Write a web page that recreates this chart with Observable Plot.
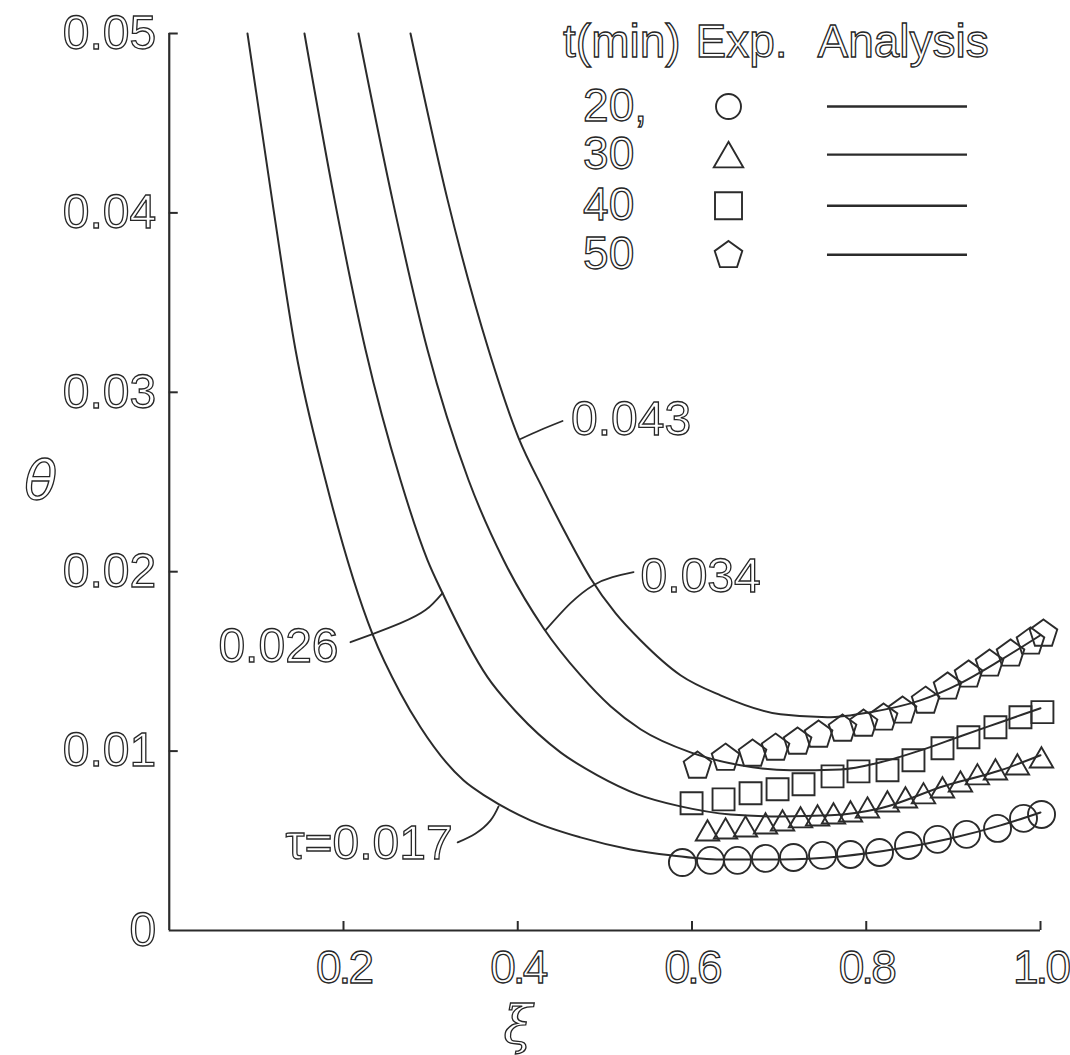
<!DOCTYPE html>
<html>
<head>
<meta charset="utf-8">
<script src="https://cdn.jsdelivr.net/npm/d3@7"></script>
<script src="https://cdn.jsdelivr.net/npm/@observablehq/plot@0.6"></script>
<style>
  html, body { margin: 0; padding: 0; background: #fff; }
  #chart svg { display: block; }
  #chart svg text { fill: #ffffff; stroke: #262626; stroke-width: 1.3px; paint-order: normal; }
  #chart svg g[aria-label="text"], #chart svg g[aria-label^="x-axis"], #chart svg g[aria-label^="y-axis"] { opacity: 0.995; }
  #chart svg g[aria-label="x-axis tick label"] text { letter-spacing: -3px; }
</style>
</head>
<body>
<div id="chart"></div>
<script>
// ---------------- DATA ----------------
const xTicks = [0.2, 0.4, 0.6, 0.8, 1.0];
const xTickLabels = ["0.2", "0.4", "0.6", "0.8", "1.0"];
const yTicks = [0, 0.01, 0.02, 0.03, 0.04, 0.05];
const yTickLabels = ["0", "0.01", "0.02", "0.03", "0.04", "0.05"];

const tauValues = ["0.017", "0.026", "0.034", "0.043"];
const tMinutes = ["20,", "30", "40", "50"];

// Analysis curves [xi, theta]
const analysis017 = [[0.0898,0.0500],[0.1197,0.04018],[0.1449,0.03237],[0.1793,0.02511],[0.2333,0.01652],[0.2654,0.01323],[0.2884,0.01133],[0.3377,0.00837],[0.3653,0.00742],[0.4146,0.00614],[0.4720,0.00519],[0.5294,0.00452],[0.5753,0.00419],[0.6327,0.00396],[0.7016,0.00396],[0.7704,0.00413],[0.8393,0.00458],[0.8967,0.00513],[0.9541,0.00586],[1.0,0.00658]];
const analysis026 = [[0.1552,0.0500],[0.1897,0.04074],[0.2253,0.03237],[0.2654,0.02511],[0.2964,0.02065],[0.3136,0.01881],[0.3653,0.01412],[0.3997,0.01211],[0.4491,0.00993],[0.4915,0.00865],[0.5374,0.00759],[0.5868,0.00692],[0.6442,0.00647],[0.7016,0.00636],[0.7590,0.00642],[0.8164,0.00681],[0.8887,0.00804],[0.9541,0.00893],[1.0,0.00977]];
const analysis034 = [[0.2172,0.0500],[0.2562,0.04074],[0.2964,0.03237],[0.3435,0.02511],[0.3837,0.02065],[0.4296,0.01685],[0.4720,0.01423],[0.5065,0.01250],[0.5409,0.01122],[0.5983,0.00993],[0.6557,0.00921],[0.7131,0.00893],[0.7704,0.00898],[0.8164,0.00938],[0.8623,0.01004],[0.9082,0.01083],[0.9541,0.01161],[1.0,0.01239]];
const analysis043 = [[0.2769,0.0500],[0.3194,0.04074],[0.3665,0.03237],[0.4009,0.02746],[0.4296,0.02455],[0.4572,0.02193],[0.4835,0.01964],[0.5122,0.01769],[0.5409,0.01618],[0.5868,0.01423],[0.6327,0.01311],[0.7016,0.01205],[0.7553,0.01189],[0.8046,0.01217],[0.8620,0.01283],[0.9079,0.01378],[0.9541,0.01507],[1.0,0.01646]];

// Experimental points [xi, theta]
const exp20 = [[0.5890,0.00379],[0.6212,0.00391],[0.6522,0.00391],[0.6843,0.00402],[0.7165,0.00407],[0.7498,0.00419],[0.7819,0.00424],[0.8152,0.00435],[0.8485,0.00474],[0.8818,0.00508],[0.9151,0.00536],[0.9507,0.00569],[0.9805,0.00625],[1.0012,0.00647]];
const exp30 = [[0.6178,0.00558],[0.6385,0.00569],[0.6614,0.00580],[0.6844,0.00597],[0.7039,0.00614],[0.7246,0.00631],[0.7441,0.00642],[0.7624,0.00653],[0.7819,0.00664],[0.8014,0.00686],[0.8243,0.00720],[0.8450,0.00742],[0.8657,0.00765],[0.8875,0.00798],[0.9081,0.00831],[0.9276,0.00871],[0.9483,0.00898],[0.9735,0.00926],[1.0011,0.00965]];
const exp40 = [[0.5995,0.00709],[0.6362,0.00731],[0.6672,0.00765],[0.6982,0.00787],[0.7280,0.00815],[0.7613,0.00859],[0.7911,0.00887],[0.8244,0.00893],[0.8542,0.00949],[0.8875,0.01016],[0.9173,0.01077],[0.9483,0.01133],[0.9770,0.01189],[1.0022,0.01217]];
const exp50 = [[0.6063,0.00921],[0.6385,0.00965],[0.6695,0.00988],[0.6959,0.01021],[0.7212,0.01055],[0.7453,0.01094],[0.7728,0.01127],[0.7969,0.01155],[0.8199,0.01189],[0.8417,0.01228],[0.8681,0.01283],[0.8933,0.01362],[0.9174,0.01429],[0.9415,0.01490],[0.9656,0.01546],[0.9885,0.01613],[1.0034,0.01657]];

// ---------------- ANNOTATION LAYOUT (data space) ----------------
const leaders = [
  [[0.3310,0.00491],[0.3516,0.00541],[0.3688,0.00614],[0.3780,0.00692]],
  [[0.2080,0.01607],[0.2333,0.01652],[0.2654,0.01713],[0.2941,0.01786],[0.3136,0.01881]],
  [[0.4319,0.01674],[0.4606,0.01825],[0.4869,0.01925],[0.5088,0.01970],[0.5329,0.01998]],
  [[0.4032,0.02740],[0.4261,0.02790],[0.4514,0.02840]]
];
const curveLabelPos = [
  {x: 0.3253, y: 0.00486, anchor: "end", prefix: "τ="},
  {x: 0.1943, y: 0.01585, anchor: "end", prefix: ""},
  {x: 0.5410, y: 0.01975, anchor: "start", prefix: ""},
  {x: 0.4612, y: 0.02846, anchor: "start", prefix: ""}
];
const LEG_HEAD_Y = 0.0495;
const LEG_ROWS_Y = [0.04593, 0.04325, 0.0404, 0.03767];
const LEG_NUM_X = 0.4750, LEG_SYM_X = 0.6419, LEG_L1 = 0.7555, LEG_L2 = 0.9162;
const legendHead = [{x: 0.4520, text: "t(min)"}, {x: 0.6040, text: "Exp."}, {x: 0.7440, text: "Analysis"}];

// ---------------- STYLE ----------------
const INK = "#2b2b2b";
const FONT = "Liberation Sans, Arial, sans-serif";
const W = 1070, H = 1055, ML = 168.75, MR = 30, MT = 33, MB = 125;
const FRAME_W = W - ML - MR, FRAME_H = H - MT - MB;

function poly(n, rot, shiftY) {
  return {draw(ctx, size) {
    const R = Math.sqrt(size / Math.PI);
    for (let k = 0; k < n; k++) {
      const a = rot + k * 2 * Math.PI / n;
      const x = R * Math.cos(a), y = R * Math.sin(a) + shiftY * R;
      k ? ctx.lineTo(x, y) : ctx.moveTo(x, y);
    }
    ctx.closePath();
  }};
}
const symCircle = {draw(ctx, size) { const r = Math.sqrt(size / Math.PI); ctx.moveTo(r, 0); ctx.arc(0, 0, r, 0, 2 * Math.PI); }};
const symTriangle = poly(3, -Math.PI / 2, 0.25);
const symSquare = {draw(ctx, size) { const r = Math.sqrt(size / Math.PI); ctx.rect(-r, -r, 2 * r, 2 * r); }};
const symPentagon = poly(5, -Math.PI / 2, 0.05);

const expSets = [
  {pts: exp20, sym: symCircle, r: 13.5, lr: 12.5},
  {pts: exp30, sym: symTriangle, r: 13.5, lr: 17},
  {pts: exp40, sym: symSquare, r: 11, lr: 13.5},
  {pts: exp50, sym: symPentagon, r: 14.5, lr: 14.5}
];

const curves = [analysis017, analysis026, analysis034, analysis043]
  .flatMap((pts, i) => pts.map(([xi, theta]) => ({tau: tauValues[i], xi, theta})));

const marks = [];
// axis lines
marks.push(Plot.ruleX([0], {stroke: INK, strokeWidth: 2.2}));
marks.push(Plot.ruleY([0], {stroke: INK, strokeWidth: 2.2}));
// inward ticks
marks.push(Plot.tickY(yTicks.slice(1), {y: d => d, stroke: INK, strokeWidth: 2, insetRight: FRAME_W - 9}));
marks.push(Plot.tickX(xTicks, {x: d => d, stroke: INK, strokeWidth: 2, insetTop: FRAME_H - 9}));
// tick labels
marks.push(Plot.axisY(yTicks, {tickSize: 0, tickPadding: 13, tickFormat: d => yTickLabels[yTicks.indexOf(d)], fontSize: 48, fontFamily: FONT, label: null}));
marks.push(Plot.axisX(xTicks, {tickSize: 0, tickPadding: 20, tickFormat: d => xTickLabels[xTicks.indexOf(d)], fontSize: 46, fontFamily: FONT, label: null}));
// axis titles
marks.push(Plot.text(["θ"], {frameAnchor: "left", dx: -145, fontSize: 54, fontStyle: "italic", fontFamily: "DejaVu Sans, sans-serif"}));
marks.push(Plot.text(["ξ"], {frameAnchor: "bottom", dx: -87, dy: 112, fontSize: 52, fontStyle: "italic", fontFamily: "DejaVu Serif, serif"}));

// analysis curves
marks.push(Plot.line(curves, {x: "xi", y: "theta", z: "tau", curve: "monotone-x", stroke: INK, strokeWidth: 2}));

// leaders
leaders.forEach(pts => marks.push(Plot.line(pts, {x: d => d[0], y: d => d[1], curve: "natural", stroke: INK, strokeWidth: 1.8})));
// curve labels
const curveLabels = curveLabelPos.map((p, i) => ({...p, text: p.prefix + tauValues[i]}));
marks.push(Plot.text(curveLabels.filter(d => d.anchor === "end"), {x: "x", y: "y", text: "text", textAnchor: "end", fontSize: 48, fontFamily: FONT}));
marks.push(Plot.text(curveLabels.filter(d => d.anchor === "start"), {x: "x", y: "y", text: "text", textAnchor: "start", fontSize: 48, fontFamily: FONT}));

// experimental points
expSets.forEach(s => marks.push(Plot.dot(s.pts, {x: d => d[0], y: d => d[1], symbol: s.sym, r: s.r, stroke: INK, strokeWidth: 1.9, fill: "none"})));

// legend
marks.push(Plot.text(legendHead, {x: "x", y: () => LEG_HEAD_Y, text: "text", textAnchor: "start", fontSize: 46, fontFamily: FONT}));
marks.push(Plot.text(tMinutes, {x: () => LEG_NUM_X, y: (d, i) => LEG_ROWS_Y[i], text: d => d, textAnchor: "start", fontSize: 46, fontFamily: FONT}));
expSets.forEach((s, i) => marks.push(Plot.dot([i], {x: () => LEG_SYM_X, y: () => LEG_ROWS_Y[i], symbol: s.sym, r: s.lr, stroke: INK, strokeWidth: 1.9, fill: "none"})));
marks.push(Plot.ruleY(LEG_ROWS_Y, {y: d => d, x1: () => LEG_L1, x2: () => LEG_L2, stroke: INK, strokeWidth: 2.4}));

const chart = Plot.plot({
  width: W, height: H,
  marginLeft: ML, marginRight: MR, marginTop: MT, marginBottom: MB,
  x: {domain: [0, 1], axis: null},
  y: {domain: [0, 0.05], axis: null},
  style: {background: "white", overflow: "visible"},
  marks
});
document.getElementById("chart").appendChild(chart);
</script>
</body>
</html>
